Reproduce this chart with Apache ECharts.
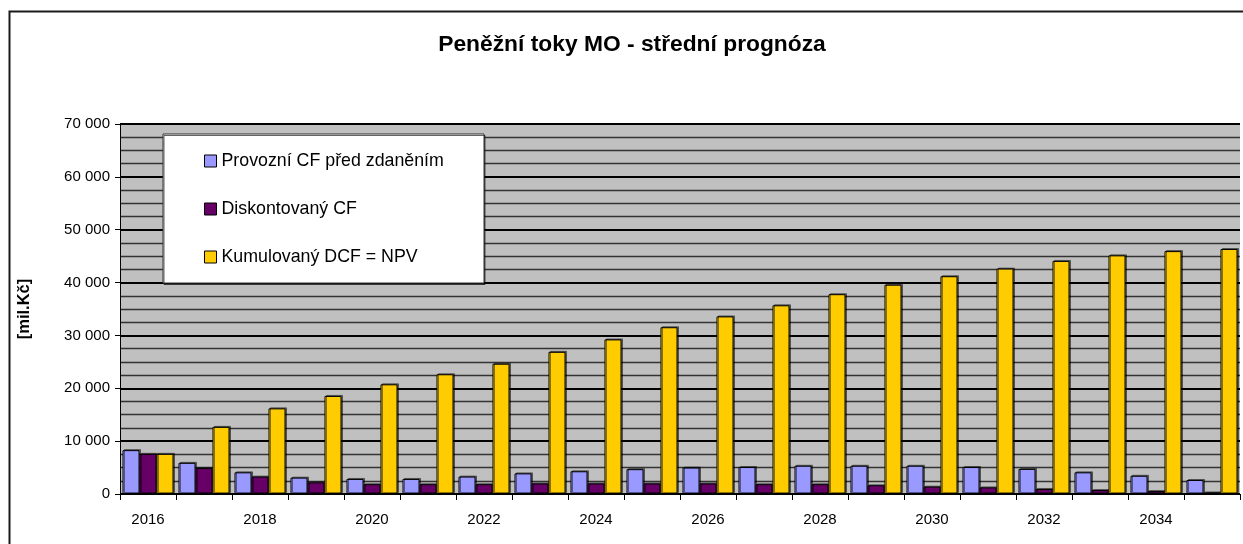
<!DOCTYPE html>
<html>
<head>
<meta charset="utf-8">
<script src="https://cdn.jsdelivr.net/npm/echarts@6/dist/echarts.min.js"></script>
<style>
html,body{margin:0;padding:0;background:#fff;}
#c{width:1243px;height:544px;}
</style>
</head>
<body>
<div id="c"></div>
<script>
const years = ['2016','2017','2018','2019','2020','2021','2022','2023','2024','2025','2026','2027','2028','2029','2030','2031','2032','2033','2034','2035'];
const provozniCF = [8300, 5900, 4100, 3100, 2850, 2850, 3300, 3900, 4300, 4700, 5000, 5100, 5350, 5350, 5350, 5100, 4750, 4100, 3450, 2650];
const diskontovanyCF = [7600, 4900, 3300, 2200, 1850, 1850, 1850, 2000, 2000, 2000, 2000, 1850, 1850, 1650, 1400, 1250, 950, 750, 550, 300];
const kumulovanyDCF = [7600, 12700, 16200, 18550, 20750, 22650, 24650, 26900, 29250, 31550, 33600, 35700, 37800, 39600, 41200, 42650, 44100, 45150, 45950, 46350];
const seriesNames = ['Provozní CF před zdaněním', 'Diskontovaný CF', 'Kumulovaný DCF = NPV'];
const seriesColors = ['#9999FF', '#660066', '#FFCC00'];

const chart = echarts.init(document.getElementById('c'), null, {renderer: 'canvas'});
const font = 'Liberation Sans, Arial, sans-serif';
function fmt(v){ return String(v).replace(/\B(?=(\d{3})+(?!\d))/g, ' '); }
const allData = [provozniCF, diskontovanyCF, kumulovanyDCF];

chart.setOption({
  animation: false,
  backgroundColor: '#fff',
  textStyle: {fontFamily: font},
  title: {
    text: 'Peněžní toky MO - střední prognóza',
    left: 627, top: 28, textAlign: 'center',
    textStyle: {fontFamily: font, fontSize: 22.8, fontWeight: 'bold', color: '#000'}
  },
  graphic: [
    {type: 'rect', left: 7, top: 9, z: -10, silent: true,
     shape: {x: 0, y: 0, width: 1260, height: 560},
     style: {fill: 'none', stroke: '#1a1a1a', lineWidth: 2}},
    {type: 'rect', z: 3, silent: true,
     shape: {x: 163, y: 134, width: 321, height: 149},
     style: {fill: '#fff', stroke: '#333', lineWidth: 1, shadowColor: 'rgba(0,0,0,0.6)', shadowOffsetX: 1, shadowOffsetY: 1.5}}
  ],
  legend: {
    orient: 'vertical', left: 204, top: 152, z: 5,
    padding: 0, itemGap: 30, itemWidth: 12, itemHeight: 12,
    icon: 'rect',
    itemStyle: {borderColor: '#000', borderWidth: 1},
    textStyle: {fontFamily: font, fontSize: 17.8, color: '#000', lineHeight: 15, padding: [0,0,0,0]},
    data: seriesNames
  },
  grid: {left: 120, right: 3, top: 124, bottom: 50, show: true, backgroundColor: '#C0C0C0', borderWidth: 0},
  xAxis: {
    type: 'category', data: years,
    axisLine: {lineStyle: {color: '#000', width: 1}},
    axisTick: {show: true, interval: 0, length: 6, lineStyle: {color: '#000'}},
    axisLabel: {interval: 1, margin: 18, fontFamily: font, fontSize: 15, color: '#000'},
    splitLine: {show: false}
  },
  yAxis: {
    type: 'value', min: 0, max: 70000, interval: 10000,
    name: '[mil.Kč]', nameLocation: 'middle', nameGap: 87, nameRotate: 90,
    nameTextStyle: {fontFamily: font, fontSize: 16.5, fontWeight: 'bold', color: '#000'},
    axisLine: {show: true, lineStyle: {color: '#000', width: 1}},
    axisTick: {show: true, length: 5, lineStyle: {color: '#000'}},
    axisLabel: {margin: 10, fontFamily: font, fontSize: 15, color: '#000', formatter: fmt},
    splitLine: {show: true, lineStyle: {color: '#000', width: 2}},
    minorTick: {show: false, splitNumber: 4},
    minorSplitLine: {show: true, lineStyle: {color: '#333', width: 1.3}}
  },
  series: seriesNames.map((n, i) => ({
    name: n, type: 'bar', data: allData[i],
    barWidth: 17, barGap: '0%',
    itemStyle: {color: seriesColors[i], borderColor: '#000', borderWidth: 1,
      shadowColor: 'rgba(0,0,0,0.45)', shadowOffsetX: 1.5, shadowOffsetY: -1},
    z: 2
  }))
});
</script>
</body>
</html>
